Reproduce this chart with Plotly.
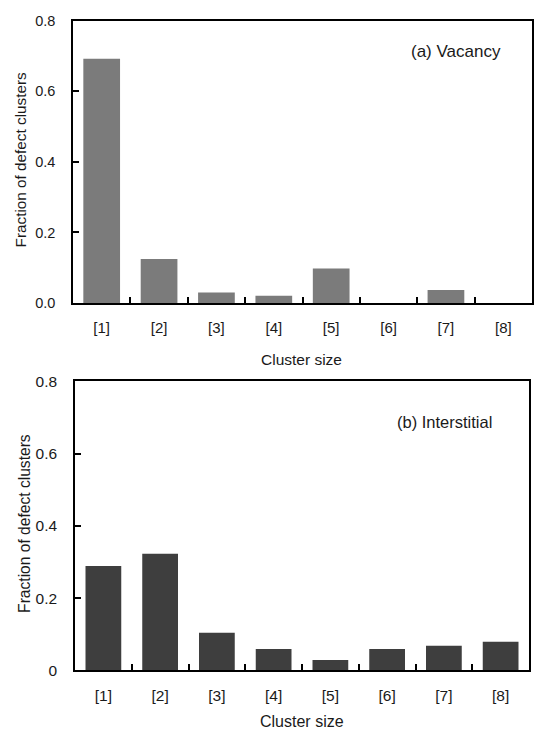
import plotly.graph_objects as go

categories = ["[1]", "[2]", "[3]", "[4]", "[5]", "[6]", "[7]", "[8]"]
vacancy = [0.692, 0.125, 0.030, 0.021, 0.098, 0.0, 0.037, 0.0]
interstitial = [0.289, 0.323, 0.104, 0.059, 0.029, 0.059, 0.068, 0.079]
yticks = [0, 0.2, 0.4, 0.6, 0.8]
yticktext_a = ["0.0", "0.2", "0.4", "0.6", "0.8"]
yticktext_b = ["0", "0.2", "0.4", "0.6", "0.8"]
boundary_ticks = [0.5, 1.5, 2.5, 3.5, 4.5, 5.5, 6.5]

W, H = 535, 739
FONT = "Liberation Sans, Arial, sans-serif"
TXT = "#1a1a1a"

fig = go.Figure()
fig.add_trace(go.Bar(x=categories, y=vacancy, xaxis="x", yaxis="y",
                     marker=dict(color="#7b7b7b", line=dict(width=0)),
                     width=0.64, showlegend=False))
fig.add_trace(go.Bar(x=categories, y=interstitial, xaxis="x2", yaxis="y2",
                     marker=dict(color="#3e3e3e", line=dict(width=0)),
                     width=0.63, showlegend=False))

def px_x(p):
    return p / W

def px_y(p):
    return 1 - p / H

common_x = dict(type="category", showline=True, linecolor="black", linewidth=1.5, mirror=True,
                ticks="", showgrid=False, zeroline=False,
                range=[-0.5, 7.5], fixedrange=True)
common_y = dict(showline=True, linecolor="black", linewidth=1.5, mirror=True,
                ticks="inside", ticklen=6, tickwidth=1.5, tickcolor="black",
                showgrid=False, zeroline=False, range=[0, 0.8], tickvals=yticks)
tick_overlay = dict(type="linear", range=[-0.5, 7.5], showline=False, showgrid=False,
                    zeroline=False, ticks="inside", ticklen=6, tickwidth=1.5,
                    tickcolor="black", tickvals=boundary_ticks, showticklabels=False,
                    side="bottom", fixedrange=True)

dom_a = [px_x(73), px_x(532)]
dom_b = [px_x(75), px_x(529)]

fig.update_layout(
    width=W, height=H, margin=dict(l=0, r=0, t=0, b=0),
    paper_bgcolor="white", plot_bgcolor="white",
    font=dict(family=FONT, color=TXT),
    xaxis=dict(**common_x, domain=dom_a, anchor="y",
               tickfont=dict(size=15, family=FONT, color=TXT), ticklabelstandoff=10),
    yaxis=dict(**common_y, domain=[px_y(301), px_y(12)], anchor="x",
               ticktext=yticktext_a, tickfont=dict(size=14.5, family=FONT, color=TXT),
               ticklabelstandoff=13),
    xaxis3=dict(**tick_overlay, domain=dom_a, anchor="y", overlaying="x"),
    xaxis2=dict(**common_x, domain=dom_b, anchor="y2",
                tickfont=dict(size=15.5, family=FONT, color=TXT), ticklabelstandoff=10),
    yaxis2=dict(**common_y, domain=[px_y(677), px_y(381)], anchor="x2",
                ticktext=yticktext_b, tickfont=dict(size=15.5, family=FONT, color=TXT),
                ticklabelstandoff=13),
    xaxis4=dict(**tick_overlay, domain=dom_b, anchor="y2", overlaying="x2"),
)
# invisible helper traces so the boundary-tick overlay axes are drawn
fig.add_trace(go.Scatter(x=[None], y=[None], xaxis="x3", yaxis="y", showlegend=False, hoverinfo="skip"))
fig.add_trace(go.Scatter(x=[None], y=[None], xaxis="x4", yaxis="y2", showlegend=False, hoverinfo="skip"))

ann = [
    dict(text="(a) Vacancy", x=px_x(503), y=px_y(43), xanchor="right", yanchor="middle", size=17),
    dict(text="(b) Interstitial", x=px_x(494), y=px_y(423), xanchor="right", yanchor="middle", size=16.5),
    dict(text="Cluster size", x=px_x(301), y=px_y(359), xanchor="center", yanchor="middle", size=15.5),
    dict(text="Cluster size", x=px_x(302), y=px_y(729), xanchor="center", yanchor="middle", size=16),
]
for a in ann:
    fig.add_annotation(text=a["text"], x=a["x"], y=a["y"], xref="paper", yref="paper",
                       xanchor=a["xanchor"], yanchor=a["yanchor"], showarrow=False,
                       font=dict(size=a["size"], family=FONT, color=TXT))

fig.add_annotation(text="Fraction of defect clusters", x=px_x(20), y=px_y(155),
                   xref="paper", yref="paper", textangle=-90, showarrow=False,
                   xanchor="center", yanchor="middle", font=dict(size=15.3, family=FONT, color=TXT))
fig.add_annotation(text="Fraction of defect clusters", x=px_x(25), y=px_y(527),
                   xref="paper", yref="paper", textangle=-90, showarrow=False,
                   xanchor="center", yanchor="middle", font=dict(size=15.6, family=FONT, color=TXT))

fig.write_html("out.html")
